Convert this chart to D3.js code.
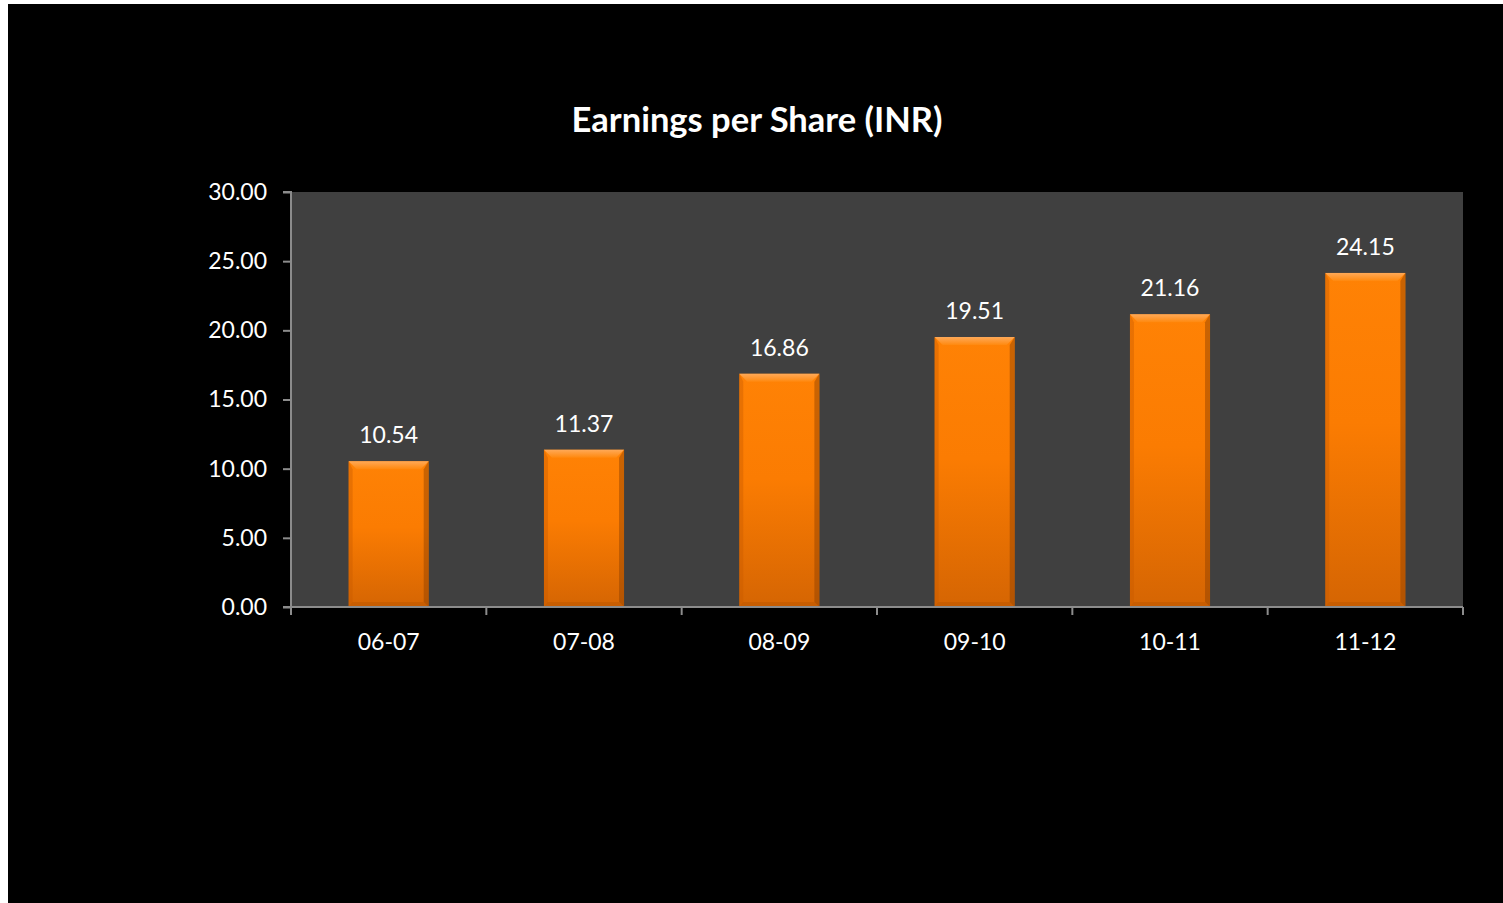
<!DOCTYPE html>
<html>
<head>
<meta charset="utf-8">
<script src="https://cdn.jsdelivr.net/npm/d3@7.9.0/dist/d3.min.js"></script>
<style>
  html, body { margin: 0; padding: 0; background: #fff; }
  svg { display: block; }
</style>
</head>
<body>
<div id="chart"></div>
<script>
// Chart data
const years = ['06-07', '07-08', '08-09', '09-10', '10-11', '11-12'];
const eps = [10.54, 11.37, 16.86, 19.51, 21.16, 24.15];
const yTicks = [0, 5, 10, 15, 20, 25, 30];

const W = 1503, H = 903;
const plot = {left: 291, right: 1463, top: 192, bottom: 607};
const font = 'Lato, "Open Sans", sans-serif';

const svg = d3.select('#chart').append('svg')
  .attr('width', W)
  .attr('height', H);

// black slide area (white strip on left/top)
svg.append('rect').attr('x', 8).attr('y', 4).attr('width', W - 8).attr('height', H - 4).attr('fill', '#000');

const defs = svg.append('defs');
const grad = defs.append('linearGradient').attr('id', 'barFill').attr('x1', 0).attr('y1', 0).attr('x2', 0).attr('y2', 1);
grad.append('stop').attr('offset', '0%').attr('stop-color', '#ff8205');
grad.append('stop').attr('offset', '45%').attr('stop-color', '#fb7c02');
grad.append('stop').attr('offset', '100%').attr('stop-color', '#d56503');

const topGrad = defs.append('linearGradient').attr('id', 'topFill').attr('x1', 0).attr('y1', 0).attr('x2', 0).attr('y2', 1);
topGrad.append('stop').attr('offset', '0%').attr('stop-color', '#ffb066');
topGrad.append('stop').attr('offset', '100%').attr('stop-color', '#ff8a10');

// Scales
const x = d3.scaleBand().domain(years).range([plot.left, plot.right]).paddingInner(0.59).paddingOuter(0.295);
const y = d3.scaleLinear().domain([0, 30]).range([plot.bottom, plot.top]);

// plot area
svg.append('rect')
  .attr('x', plot.left).attr('y', plot.top)
  .attr('width', plot.right - plot.left).attr('height', plot.bottom - plot.top)
  .attr('fill', '#404040');

// Title
svg.append('text')
  .attr('x', 757).attr('y', 132)
  .attr('text-anchor', 'middle')
  .attr('fill', '#fff')
  .attr('font-family', font)
  .attr('font-weight', 'bold')
  .attr('font-size', 34.5)
  .text('Earnings per Share (INR)');

// Bars
const bars = svg.append('g').selectAll('g').data(eps).join('g')
  .attr('transform', (d, i) => `translate(${x(years[i])},0)`);

bars.append('rect')
  .attr('x', 0).attr('y', d => y(d))
  .attr('width', x.bandwidth()).attr('height', d => y(0) - y(d))
  .attr('fill', 'url(#barFill)');

// bevel: top highlight
const bev = 8;
bars.append('path')
  .attr('d', d => {
    const w = x.bandwidth(), t = y(d);
    return `M0,${t}L${w},${t}L${w - bev},${t + bev}L${bev},${t + bev}Z`;
  })
  .attr('fill', 'url(#topFill)').attr('opacity', 0.85);
// right dark edge
bars.append('path')
  .attr('d', d => {
    const w = x.bandwidth(), t = y(d), b = y(0);
    return `M${w},${t}L${w},${b}L${w - 5},${b - 5}L${w - 5},${t + bev}Z`;
  })
  .attr('fill', '#8a3f00').attr('opacity', 0.45);
// left edge
bars.append('path')
  .attr('d', d => {
    const t = y(d), b = y(0);
    return `M0,${t}L0,${b}L4,${b - 4}L4,${t + bev}Z`;
  })
  .attr('fill', '#c85a00').attr('opacity', 0.4);
// bottom edge
bars.append('path')
  .attr('d', d => {
    const w = x.bandwidth(), b = y(0);
    return `M0,${b}L${w},${b}L${w - 5},${b - 5}L4,${b - 5}Z`;
  })
  .attr('fill', '#b85500').attr('opacity', 0.45);

// value labels
bars.append('text')
  .attr('x', x.bandwidth() / 2)
  .attr('y', d => y(d) - 18)
  .attr('text-anchor', 'middle')
  .attr('fill', '#fff')
  .attr('font-family', font)
  .attr('font-size', 23)
  .text(d => d.toFixed(2));

// Axes
const axisColor = '#8c8c8c';
const yAxis = svg.append('g')
  .attr('transform', `translate(${plot.left},0)`)
  .call(d3.axisLeft(y).tickValues(yTicks).tickFormat(d3.format('.2f')).tickSize(8).tickPadding(16));
const xAxis = svg.append('g')
  .attr('transform', `translate(0,${plot.bottom})`)
  .call(d3.axisBottom(x).tickSize(0).tickPadding(27));

// x ticks at category boundaries
const bounds = d3.range(years.length + 1).map(i => plot.left + i * (plot.right - plot.left) / years.length);
xAxis.selectAll('.bound').data(bounds).join('line')
  .attr('class', 'bound')
  .attr('x1', d => d).attr('x2', d => d)
  .attr('y1', 0).attr('y2', 8)
  .attr('stroke', axisColor).attr('stroke-width', 2);

[yAxis, xAxis].forEach(g => {
  g.select('.domain').attr('stroke', axisColor).attr('stroke-width', 2);
  g.selectAll('.tick line').attr('stroke', axisColor).attr('stroke-width', 2);
  g.selectAll('.tick text')
    .attr('fill', '#fff')
    .attr('font-family', font)
    .attr('font-size', 23);
});
yAxis.select('.domain').attr('d', `M-8,${plot.top}H0V${plot.bottom}H-8`);
xAxis.select('.domain').attr('d', `M${plot.left},0H${plot.right}`);
</script>
</body>
</html>
